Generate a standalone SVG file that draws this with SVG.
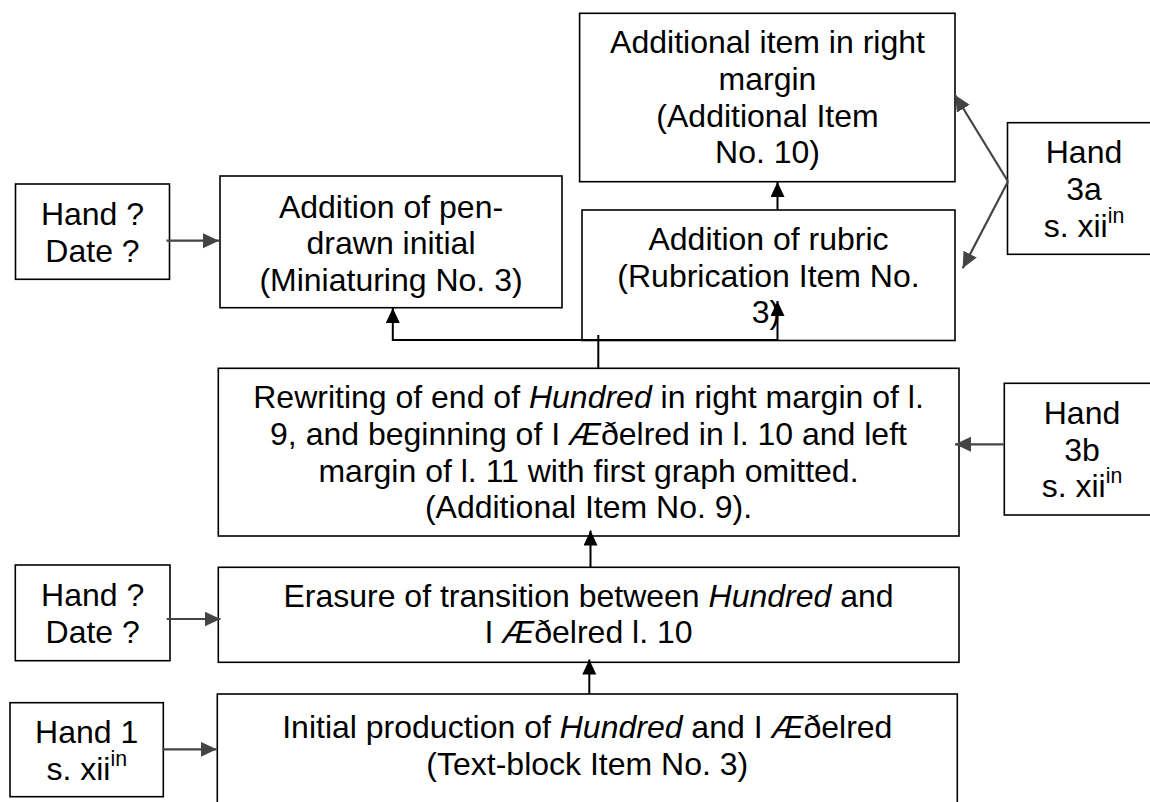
<svg xmlns="http://www.w3.org/2000/svg" width="1150" height="802" viewBox="0 0 1150 802">
  <style>
    .box { fill: #ffffff; stroke: #000000; stroke-width: 1.6; }
    .lbl { font-family: "Liberation Sans", Arial, sans-serif; font-size: 32px; fill: #000000; text-anchor: middle; }
    .it { font-style: italic; }
    .sup { font-size: 21.3px; }
    .link { fill: none; stroke: #000000; stroke-width: 2; }
    .hand { fill: none; stroke: #444444; stroke-width: 2.2; }
  </style>
  <defs>
    <marker id="headBlack" markerUnits="userSpaceOnUse" markerWidth="16" markerHeight="16" refX="15" refY="7" orient="auto">
      <path d="M0,0 L15,7 L0,14 z" fill="#000000"/>
    </marker>
    <marker id="headGray" markerUnits="userSpaceOnUse" markerWidth="17" markerHeight="17" refX="16" refY="7.5" orient="auto">
      <path d="M0,0 L16,7.5 L0,15 z" fill="#444444"/>
    </marker>
  </defs>

  <rect width="1150" height="802" fill="#ffffff"/>

  <!-- top: additional marginal item -->
  <g id="additional-item-10">
    <rect class="box" x="579.6" y="13.3" width="375.4" height="168.4"/>
    <text class="lbl" x="767.5" y="53.3">Additional item in right</text>
    <text class="lbl" x="767.5" y="90">margin</text>
    <text class="lbl" x="767.5" y="126.7">(Additional Item</text>
    <text class="lbl" x="767.5" y="163.3">No. 10)</text>
  </g>

  <g id="rubric">
    <rect class="box" x="582" y="210" width="373" height="130.5"/>
    <text class="lbl" x="768.5" y="250">Addition of rubric</text>
    <text class="lbl" x="768.5" y="286.7">(Rubrication Item No.</text>
    <text class="lbl" x="766" y="323.3">3)</text>
  </g>

  <g id="pen-initial">
    <rect class="box" x="220" y="176" width="342" height="131.7"/>
    <text class="lbl" x="391" y="217.7">Addition of pen-</text>
    <text class="lbl" x="391" y="254.3">drawn initial</text>
    <text class="lbl" x="391" y="291">(Miniaturing No. 3)</text>
  </g>

  <g id="hand-unknown-1">
    <rect class="box" x="15.5" y="184" width="154" height="95.3"/>
    <text class="lbl" x="92.5" y="225">Hand ?</text>
    <text class="lbl" x="92.5" y="261.7">Date ?</text>
  </g>

  <g id="hand-3a">
    <rect class="box" x="1007.5" y="122.7" width="160" height="131.6"/>
    <text class="lbl" x="1084" y="163.3">Hand</text>
    <text class="lbl" x="1084" y="200">3a</text>
    <text class="lbl" x="1084" y="236.7">s. xii<tspan class="sup" dy="-14">in</tspan></text>
  </g>

  <g id="rewriting">
    <rect class="box" x="218.3" y="368.3" width="740.7" height="167.7"/>
    <text class="lbl" x="588.5" y="408.3">Rewriting of end of <tspan class="it">Hundred</tspan> in right margin of l.</text>
    <text class="lbl" x="588.5" y="445">9, and beginning of I <tspan class="it">Æ</tspan>ðelred in l. 10 and left</text>
    <text class="lbl" x="588.5" y="481.7">margin of l. 11 with first graph omitted.</text>
    <text class="lbl" x="588.5" y="518.3">(Additional Item No. 9).</text>
  </g>

  <g id="hand-3b">
    <rect class="box" x="1004.3" y="383.3" width="160" height="131.7"/>
    <text class="lbl" x="1082" y="424">Hand</text>
    <text class="lbl" x="1082" y="460.7">3b</text>
    <text class="lbl" x="1082" y="497.3">s. xii<tspan class="sup" dy="-14">in</tspan></text>
  </g>

  <g id="erasure">
    <rect class="box" x="218.3" y="567.3" width="740.7" height="95"/>
    <text class="lbl" x="588.5" y="606.7">Erasure of transition between <tspan class="it">Hundred</tspan> and</text>
    <text class="lbl" x="588.5" y="643.3">I <tspan class="it">Æ</tspan>ðelred l. 10</text>
  </g>

  <g id="hand-unknown-2">
    <rect class="box" x="15.3" y="565" width="154.7" height="95.7"/>
    <text class="lbl" x="92.7" y="606.3">Hand ?</text>
    <text class="lbl" x="92.7" y="643">Date ?</text>
  </g>

  <g id="initial-production">
    <rect class="box" x="217.3" y="694" width="740" height="130"/>
    <text class="lbl" x="587.3" y="738">Initial production of <tspan class="it">Hundred</tspan> and I <tspan class="it">Æ</tspan>ðelred</text>
    <text class="lbl" x="587.3" y="774.7">(Text-block Item No. 3)</text>
  </g>

  <g id="hand-1">
    <rect class="box" x="10" y="702.7" width="153.3" height="94"/>
    <text class="lbl" x="86.7" y="743">Hand 1</text>
    <text class="lbl" x="86.7" y="779.7">s. xii<tspan class="sup" dy="-14">in</tspan></text>
  </g>

  <g id="connectors">
    <!-- sequence links -->
    <line class="link" x1="589.3" y1="694" x2="589.3" y2="659.5" marker-end="url(#headBlack)"/>
    <line class="link" x1="590.5" y1="567.3" x2="590.5" y2="530.5" marker-end="url(#headBlack)"/>
    <line class="link" x1="598.3" y1="368.3" x2="598.3" y2="335"/>
    <polyline class="link" points="777.5,340 392.8,340 392.8,308" marker-end="url(#headBlack)"/>
    <line class="link" x1="777.5" y1="341" x2="777.5" y2="301" marker-end="url(#headBlack)"/>
    <line class="link" x1="777.5" y1="210" x2="777.5" y2="182" marker-end="url(#headBlack)"/>
    <!-- hand attributions -->
    <line class="hand" x1="166.5" y1="240.7" x2="219" y2="240.7" marker-end="url(#headGray)"/>
    <line class="hand" x1="166.7" y1="619" x2="220.5" y2="619" marker-end="url(#headGray)"/>
    <line class="hand" x1="162.7" y1="749.3" x2="216.7" y2="749.3" marker-end="url(#headGray)"/>
    <line class="hand" x1="1003.5" y1="444.3" x2="955" y2="444.3" marker-end="url(#headGray)"/>
    <line class="hand" x1="1008" y1="181.5" x2="955" y2="95" marker-end="url(#headGray)"/>
    <line class="hand" x1="1008" y1="181.5" x2="962.7" y2="268.3" marker-end="url(#headGray)"/>
  </g>
</svg>
